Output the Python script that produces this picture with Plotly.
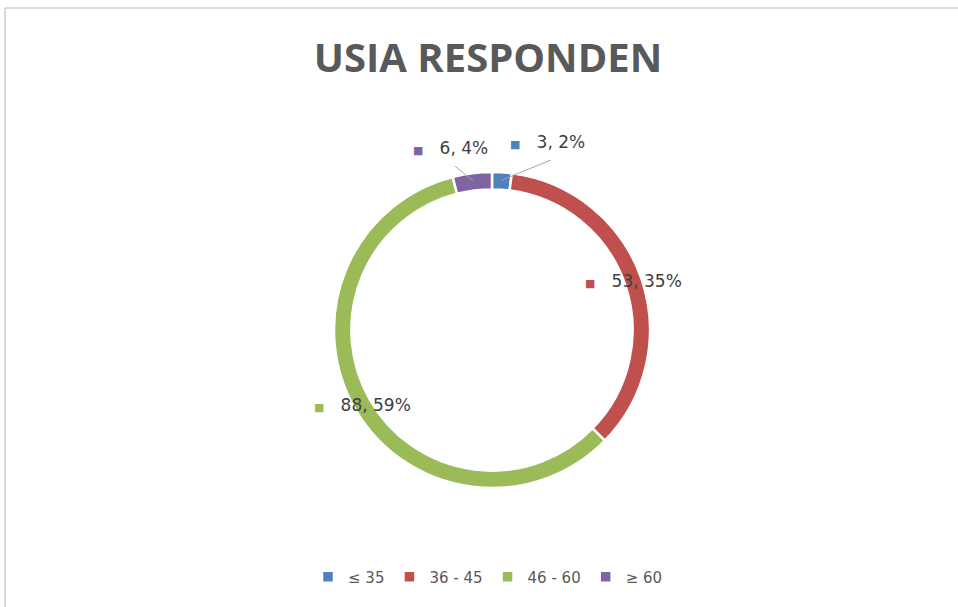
import math
import plotly.graph_objects as go

# ---- data ----
categories = ["≤ 35", "36 - 45", "46 - 60", "≥ 60"]
values = [3, 53, 88, 6]
colors = ["#4F81BD", "#C0504D", "#9BBB59", "#8064A2"]
title_text = "USIA RESPONDEN"

W, H = 958, 607
CX, CY, R = 492, 330, 158  # pixel geometry of donut (layout)
HOLE = 0.89

fig = go.Figure()
fig.add_trace(go.Pie(
    labels=categories,
    values=values,
    marker=dict(colors=colors, line=dict(color="white", width=2.5)),
    hole=HOLE,
    sort=False,
    direction="clockwise",
    rotation=0,
    textinfo="none",
    hoverinfo="label+value+percent",
    domain=dict(x=[(CX - R) / W, (CX + R) / W],
                y=[(H - CY - R) / H, (H - CY + R) / H]),
    showlegend=True,
))

def px_to_paper(x, y):
    return x / W, (H - y) / H

total = sum(values)
# label positions for small slices (pixel label centers); others sit on the ring
label_override = {0: (547, 142), 3: (450, 148)}
leader_end = {0: (551, 160), 3: (455, 166)}
annotations = []
shapes = []
cum = 0
for i, (cat, v, col) in enumerate(zip(categories, values, colors)):
    mid = (cum + v / 2) / total * 2 * math.pi
    cum += v
    pct = round(v / total * 100)
    rr = R * 0.95
    ax_ = CX + rr * math.sin(mid)
    ay_ = CY - rr * math.cos(mid)
    if i in label_override:
        lx, ly = label_override[i]
        ex, ey = leader_end[i]
        x0, y0 = px_to_paper(ax_, ay_)
        x1, y1 = px_to_paper(ex, ey)
        shapes.append(dict(type="line", xref="paper", yref="paper",
                           x0=x0, y0=y0, x1=x1, y1=y1,
                           line=dict(color="#A6A6A6", width=1)))
    else:
        lx, ly = ax_, ay_
    px, py = px_to_paper(lx, ly)
    annotations.append(dict(
        x=px, y=py, xref="paper", yref="paper",
        text=f"<span style='color:{col};font-size:11px'>■</span>   {v}, {pct}%",
        showarrow=False, xanchor="center", yanchor="middle",
        font=dict(family="DejaVu Sans", size=17, color="#404040"),
    ))

# chart border (top and left edges visible)
shapes.append(dict(type="line", xref="paper", yref="paper",
                   x0=5 / W, y0=(H - 8) / H, x1=1, y1=(H - 8) / H,
                   line=dict(color="#D9D9D9", width=2)))
shapes.append(dict(type="line", xref="paper", yref="paper",
                   x0=5 / W, y0=(H - 8) / H, x1=5 / W, y1=0,
                   line=dict(color="#D9D9D9", width=2)))

fig.update_layout(
    width=W, height=H,
    margin=dict(l=0, r=0, t=0, b=0),
    paper_bgcolor="white",
    plot_bgcolor="white",
    title=dict(text=f"<b>{title_text}</b>", x=488 / W, xanchor="center",
               y=1 - 58 / H, yanchor="middle",
               font=dict(family="Open Sans", size=40, color="#595959")),
    legend=dict(orientation="h", x=488 / W, xanchor="center",
                y=1 - 577 / H, yanchor="middle",
                font=dict(family="DejaVu Sans", size=15, color="#595959"),
                traceorder="normal", itemwidth=30),
    annotations=annotations,
    shapes=shapes,
)

fig.write_html("out.html", config={"displayModeBar": False},
               post_script="document.body.style.margin='0';")
